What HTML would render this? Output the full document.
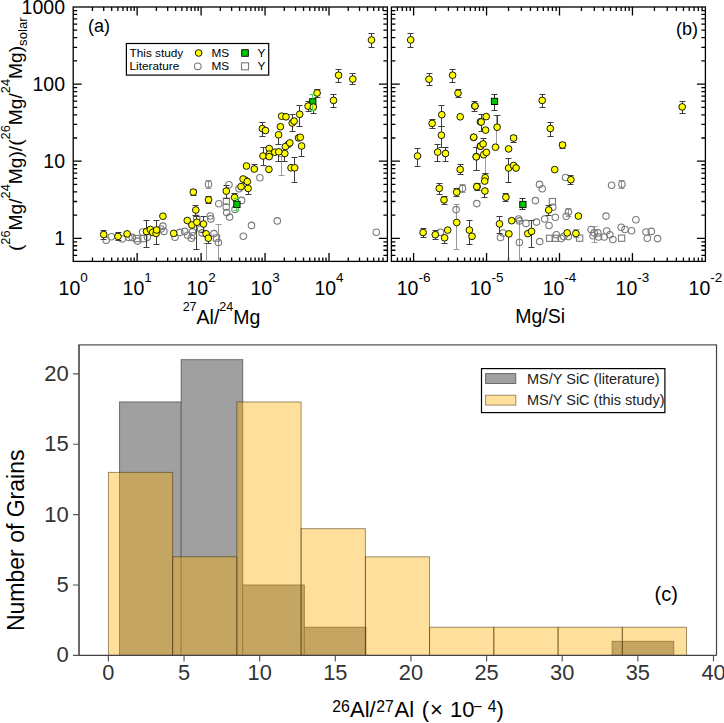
<!DOCTYPE html>
<html><head><meta charset="utf-8"><style>
html,body{margin:0;padding:0;background:#fff;}
svg{display:block;}
text{font-family:"Liberation Sans", sans-serif;}
</style></head><body>
<svg width="724" height="723" viewBox="0 0 724 723">
<rect width="724" height="723" fill="#fff"/>
<rect x="73.2" y="7.0" width="314.2" height="254.39999999999998" fill="none" stroke="#000" stroke-width="1.3"/>
<path d="M92.45,261.4v-4.0M92.45,7.0v4.0M103.71,261.4v-4.0M103.71,7.0v4.0M111.70,261.4v-4.0M111.70,7.0v4.0M117.90,261.4v-4.0M117.90,7.0v4.0M122.96,261.4v-4.0M122.96,7.0v4.0M127.24,261.4v-4.0M127.24,7.0v4.0M130.95,261.4v-4.0M130.95,7.0v4.0M134.22,261.4v-4.0M134.22,7.0v4.0M137.15,261.4v-8.5M137.15,7.0v8.5M156.40,261.4v-4.0M156.40,7.0v4.0M167.66,261.4v-4.0M167.66,7.0v4.0M175.65,261.4v-4.0M175.65,7.0v4.0M181.85,261.4v-4.0M181.85,7.0v4.0M186.91,261.4v-4.0M186.91,7.0v4.0M191.19,261.4v-4.0M191.19,7.0v4.0M194.90,261.4v-4.0M194.90,7.0v4.0M198.17,261.4v-4.0M198.17,7.0v4.0M201.10,261.4v-8.5M201.10,7.0v8.5M220.35,261.4v-4.0M220.35,7.0v4.0M231.61,261.4v-4.0M231.61,7.0v4.0M239.60,261.4v-4.0M239.60,7.0v4.0M245.80,261.4v-4.0M245.80,7.0v4.0M250.86,261.4v-4.0M250.86,7.0v4.0M255.14,261.4v-4.0M255.14,7.0v4.0M258.85,261.4v-4.0M258.85,7.0v4.0M262.12,261.4v-4.0M262.12,7.0v4.0M265.05,261.4v-8.5M265.05,7.0v8.5M284.30,261.4v-4.0M284.30,7.0v4.0M295.56,261.4v-4.0M295.56,7.0v4.0M303.55,261.4v-4.0M303.55,7.0v4.0M309.75,261.4v-4.0M309.75,7.0v4.0M314.81,261.4v-4.0M314.81,7.0v4.0M319.09,261.4v-4.0M319.09,7.0v4.0M322.80,261.4v-4.0M322.80,7.0v4.0M326.07,261.4v-4.0M326.07,7.0v4.0M329.00,261.4v-8.5M329.00,7.0v8.5M348.25,261.4v-4.0M348.25,7.0v4.0M359.51,261.4v-4.0M359.51,7.0v4.0M367.50,261.4v-4.0M367.50,7.0v4.0M373.70,261.4v-4.0M373.70,7.0v4.0M378.76,261.4v-4.0M378.76,7.0v4.0M383.04,261.4v-4.0M383.04,7.0v4.0M73.2,255.40h4.0M387.4,255.40h-4.0M73.2,250.24h4.0M387.4,250.24h-4.0M73.2,245.77h4.0M387.4,245.77h-4.0M73.2,241.83h4.0M387.4,241.83h-4.0M73.2,238.30h8.5M387.4,238.30h-8.5M73.2,215.09h4.0M387.4,215.09h-4.0M73.2,201.51h4.0M387.4,201.51h-4.0M73.2,191.88h4.0M387.4,191.88h-4.0M73.2,184.41h4.0M387.4,184.41h-4.0M73.2,178.30h4.0M387.4,178.30h-4.0M73.2,173.14h4.0M387.4,173.14h-4.0M73.2,168.67h4.0M387.4,168.67h-4.0M73.2,164.73h4.0M387.4,164.73h-4.0M73.2,161.20h8.5M387.4,161.20h-8.5M73.2,137.99h4.0M387.4,137.99h-4.0M73.2,124.41h4.0M387.4,124.41h-4.0M73.2,114.78h4.0M387.4,114.78h-4.0M73.2,107.31h4.0M387.4,107.31h-4.0M73.2,101.20h4.0M387.4,101.20h-4.0M73.2,96.04h4.0M387.4,96.04h-4.0M73.2,91.57h4.0M387.4,91.57h-4.0M73.2,87.63h4.0M387.4,87.63h-4.0M73.2,84.10h8.5M387.4,84.10h-8.5M73.2,60.89h4.0M387.4,60.89h-4.0M73.2,47.31h4.0M387.4,47.31h-4.0M73.2,37.68h4.0M387.4,37.68h-4.0M73.2,30.21h4.0M387.4,30.21h-4.0M73.2,24.10h4.0M387.4,24.10h-4.0M73.2,18.94h4.0M387.4,18.94h-4.0M73.2,14.47h4.0M387.4,14.47h-4.0M73.2,10.53h4.0M387.4,10.53h-4.0" stroke="#000" stroke-width="1.3" fill="none"/>
<rect x="391.4" y="7.0" width="314.0" height="254.39999999999998" fill="none" stroke="#000" stroke-width="1.3"/>
<path d="M397.42,261.4v-4.0M397.42,7.0v4.0M402.30,261.4v-4.0M402.30,7.0v4.0M406.53,261.4v-4.0M406.53,7.0v4.0M410.26,261.4v-4.0M410.26,7.0v4.0M413.60,261.4v-8.5M413.60,7.0v8.5M435.56,261.4v-4.0M435.56,7.0v4.0M448.41,261.4v-4.0M448.41,7.0v4.0M457.52,261.4v-4.0M457.52,7.0v4.0M464.59,261.4v-4.0M464.59,7.0v4.0M470.37,261.4v-4.0M470.37,7.0v4.0M475.25,261.4v-4.0M475.25,7.0v4.0M479.48,261.4v-4.0M479.48,7.0v4.0M483.21,261.4v-4.0M483.21,7.0v4.0M486.55,261.4v-8.5M486.55,7.0v8.5M508.51,261.4v-4.0M508.51,7.0v4.0M521.36,261.4v-4.0M521.36,7.0v4.0M530.47,261.4v-4.0M530.47,7.0v4.0M537.54,261.4v-4.0M537.54,7.0v4.0M543.32,261.4v-4.0M543.32,7.0v4.0M548.20,261.4v-4.0M548.20,7.0v4.0M552.43,261.4v-4.0M552.43,7.0v4.0M556.16,261.4v-4.0M556.16,7.0v4.0M559.50,261.4v-8.5M559.50,7.0v8.5M581.46,261.4v-4.0M581.46,7.0v4.0M594.31,261.4v-4.0M594.31,7.0v4.0M603.42,261.4v-4.0M603.42,7.0v4.0M610.49,261.4v-4.0M610.49,7.0v4.0M616.27,261.4v-4.0M616.27,7.0v4.0M621.15,261.4v-4.0M621.15,7.0v4.0M625.38,261.4v-4.0M625.38,7.0v4.0M629.11,261.4v-4.0M629.11,7.0v4.0M632.45,261.4v-8.5M632.45,7.0v8.5M654.41,261.4v-4.0M654.41,7.0v4.0M667.26,261.4v-4.0M667.26,7.0v4.0M676.37,261.4v-4.0M676.37,7.0v4.0M683.44,261.4v-4.0M683.44,7.0v4.0M689.22,261.4v-4.0M689.22,7.0v4.0M694.10,261.4v-4.0M694.10,7.0v4.0M698.33,261.4v-4.0M698.33,7.0v4.0M702.06,261.4v-4.0M702.06,7.0v4.0M391.4,255.40h4.0M705.4,255.40h-4.0M391.4,250.24h4.0M705.4,250.24h-4.0M391.4,245.77h4.0M705.4,245.77h-4.0M391.4,241.83h4.0M705.4,241.83h-4.0M391.4,238.30h8.5M705.4,238.30h-8.5M391.4,215.09h4.0M705.4,215.09h-4.0M391.4,201.51h4.0M705.4,201.51h-4.0M391.4,191.88h4.0M705.4,191.88h-4.0M391.4,184.41h4.0M705.4,184.41h-4.0M391.4,178.30h4.0M705.4,178.30h-4.0M391.4,173.14h4.0M705.4,173.14h-4.0M391.4,168.67h4.0M705.4,168.67h-4.0M391.4,164.73h4.0M705.4,164.73h-4.0M391.4,161.20h8.5M705.4,161.20h-8.5M391.4,137.99h4.0M705.4,137.99h-4.0M391.4,124.41h4.0M705.4,124.41h-4.0M391.4,114.78h4.0M705.4,114.78h-4.0M391.4,107.31h4.0M705.4,107.31h-4.0M391.4,101.20h4.0M705.4,101.20h-4.0M391.4,96.04h4.0M705.4,96.04h-4.0M391.4,91.57h4.0M705.4,91.57h-4.0M391.4,87.63h4.0M705.4,87.63h-4.0M391.4,84.10h8.5M705.4,84.10h-8.5M391.4,60.89h4.0M705.4,60.89h-4.0M391.4,47.31h4.0M705.4,47.31h-4.0M391.4,37.68h4.0M705.4,37.68h-4.0M391.4,30.21h4.0M705.4,30.21h-4.0M391.4,24.10h4.0M705.4,24.10h-4.0M391.4,18.94h4.0M705.4,18.94h-4.0M391.4,14.47h4.0M705.4,14.47h-4.0M391.4,10.53h4.0M705.4,10.53h-4.0" stroke="#000" stroke-width="1.3" fill="none"/>
<rect x="126.4" y="43.5" width="142.3" height="31.6" fill="#fff" stroke="#000" stroke-width="1.2"/>
<path d="M218.5,224.5V261.4M215.5,224.5h6.0M281.5,156.5V175.9M278.5,156.5h6.0M278.5,175.5h6.0M519.5,220.5V261.4M516.5,220.5h6.0M485.5,154.5V173.6M482.5,154.5h6.0M482.5,173.5h6.0M456.5,204.5V249.4M453.5,204.5h6.0M453.5,249.5h6.0M496.5,115.5V147.2M493.5,115.5h6.0M493.5,147.5h6.0M462.5,184.5V192.5M459.5,184.5h6.0M459.5,192.5h6.0M576.5,229.5V237.0M573.5,229.5h6.0M573.5,237.5h6.0M206.5,243.5V261.4M203.5,243.5h6.0M621.5,180.5V188.0M618.5,180.5h6.0M618.5,188.5h6.0M594.5,226.5V242M591.5,226.5h6.0M591.5,242.5h6.0M208.5,180.5V188M205.5,180.5h6.0M205.5,188.5h6.0M568.5,208.5V216M565.5,208.5h6.0M565.5,216.5h6.0" stroke="#9a9a9a" stroke-width="1" fill="none"/>
<g fill="none" stroke="#7a7a7a" stroke-width="1.1">
<circle cx="106.2" cy="240.3" r="3.25"/>
<circle cx="111.4" cy="236.7" r="3.25"/>
<circle cx="122.3" cy="239" r="3.25"/>
<circle cx="129" cy="237.4" r="3.25"/>
<circle cx="132.3" cy="237.4" r="3.25"/>
<circle cx="137.6" cy="241.1" r="3.25"/>
<circle cx="142.6" cy="232" r="3.25"/>
<circle cx="147.4" cy="237.2" r="3.25"/>
<circle cx="161" cy="229" r="3.25"/>
<circle cx="162.9" cy="226.1" r="3.25"/>
<circle cx="163.9" cy="231.4" r="3.25"/>
<circle cx="175" cy="237.2" r="3.25"/>
<circle cx="179.8" cy="232.4" r="3.25"/>
<circle cx="184.7" cy="231.4" r="3.25"/>
<circle cx="187.6" cy="235.3" r="3.25"/>
<circle cx="192.4" cy="231.9" r="3.25"/>
<circle cx="191.4" cy="238.2" r="3.25"/>
<circle cx="193.4" cy="235.8" r="3.25"/>
<circle cx="200.6" cy="229" r="3.25"/>
<circle cx="202.1" cy="232.9" r="3.25"/>
<circle cx="196.7" cy="218.4" r="3.25"/>
<circle cx="210.3" cy="216" r="3.25"/>
<circle cx="210.8" cy="218.9" r="3.25"/>
<circle cx="208.5" cy="184.3" r="3.25"/>
<circle cx="218.8" cy="203.7" r="3.25"/>
<circle cx="229.0" cy="184.7" r="3.25"/>
<circle cx="239.0" cy="188.8" r="3.25"/>
<circle cx="241.6" cy="200.4" r="3.25"/>
<circle cx="259.9" cy="177.7" r="3.25"/>
<circle cx="235" cy="209.4" r="3.25"/>
<circle cx="226.2" cy="207" r="3.25"/>
<circle cx="226.7" cy="212.6" r="3.25"/>
<circle cx="229.6" cy="217.1" r="3.25"/>
<circle cx="214" cy="233.6" r="3.25"/>
<circle cx="218.4" cy="242.5" r="3.25"/>
<circle cx="251.5" cy="225.4" r="3.25"/>
<circle cx="243.3" cy="236.2" r="3.25"/>
<circle cx="277.3" cy="220.9" r="3.25"/>
<circle cx="376.3" cy="232.3" r="3.25"/>
<circle cx="462.5" cy="188.4" r="3.25"/>
<circle cx="476.8" cy="203.6" r="3.25"/>
<circle cx="456.1" cy="209.6" r="3.25"/>
<circle cx="440.5" cy="232.2" r="3.25"/>
<circle cx="535.4" cy="200.6" r="3.25"/>
<circle cx="539.5" cy="184.4" r="3.25"/>
<circle cx="542.2" cy="188.8" r="3.25"/>
<circle cx="552.8" cy="207.2" r="3.25"/>
<circle cx="518.6" cy="219" r="3.25"/>
<circle cx="544.7" cy="219" r="3.25"/>
<circle cx="555.3" cy="217.2" r="3.25"/>
<circle cx="519.4" cy="220.9" r="3.25"/>
<circle cx="519.4" cy="242.5" r="3.25"/>
<circle cx="526" cy="223.4" r="3.25"/>
<circle cx="536.5" cy="222.1" r="3.25"/>
<circle cx="539.7" cy="241.6" r="3.25"/>
<circle cx="500.5" cy="237.5" r="3.25"/>
<circle cx="503" cy="233" r="3.25"/>
<circle cx="549" cy="225.5" r="3.25"/>
<circle cx="556.4" cy="234.8" r="3.25"/>
<circle cx="565.6" cy="177.5" r="3.25"/>
<circle cx="611.6" cy="185.2" r="3.25"/>
<circle cx="621.9" cy="184.3" r="3.25"/>
<circle cx="568.4" cy="212.1" r="3.25"/>
<circle cx="566.2" cy="216.3" r="3.25"/>
<circle cx="606" cy="216.1" r="3.25"/>
<circle cx="635.9" cy="219.8" r="3.25"/>
<circle cx="561.2" cy="238.5" r="3.25"/>
<circle cx="563.7" cy="236.6" r="3.25"/>
<circle cx="568.4" cy="236.6" r="3.25"/>
<circle cx="591.1" cy="229.5" r="3.25"/>
<circle cx="594.2" cy="232.9" r="3.25"/>
<circle cx="597.9" cy="232.9" r="3.25"/>
<circle cx="593" cy="235.7" r="3.25"/>
<circle cx="598.6" cy="237" r="3.25"/>
<circle cx="604.2" cy="237" r="3.25"/>
<circle cx="606.7" cy="231" r="3.25"/>
<circle cx="609.8" cy="234.7" r="3.25"/>
<circle cx="612.9" cy="239.5" r="3.25"/>
<circle cx="621.2" cy="227.3" r="3.25"/>
<circle cx="625" cy="229.5" r="3.25"/>
<circle cx="631.6" cy="230.8" r="3.25"/>
<circle cx="646" cy="232" r="3.25"/>
<circle cx="651.3" cy="231.4" r="3.25"/>
<circle cx="647.3" cy="238.2" r="3.25"/>
<circle cx="657.6" cy="238.6" r="3.25"/>
<rect x="133.70000000000002" y="235.5" width="6.2" height="6.2"/>
<rect x="140.8" y="235.5" width="6.2" height="6.2"/>
<rect x="223.3" y="198.20000000000002" width="6.2" height="6.2"/>
<rect x="213.4" y="235.0" width="6.2" height="6.2"/>
<rect x="549.3" y="198.5" width="6.2" height="6.2"/>
<rect x="546.5" y="235.20000000000002" width="6.2" height="6.2"/>
<rect x="552.1" y="235.20000000000002" width="6.2" height="6.2"/>
<rect x="576.5" y="235.1" width="6.2" height="6.2"/>
<rect x="618.5" y="235.1" width="6.2" height="6.2"/>
</g>
<path d="M103.5,234.5V230.5M100.5,230.5h6.0M103.5,234.5V239.4M100.5,239.5h6.0M118.5,236.4V232.5M115.5,232.5h6.0M118.5,236.4V240.2M115.5,240.5h6.0M146.5,231.5V220.5M143.5,220.5h6.0M146.5,231.5V247.4M143.5,247.5h6.0M156.5,230V220.5M153.5,220.5h6.0M156.5,230V244.5M153.5,244.5h6.0M193.5,192.1V189.5M190.5,189.5h6.0M193.5,192.1V195.5M190.5,195.5h6.0M195.5,210V205.5M192.5,205.5h6.0M195.5,210V215.5M192.5,215.5h6.0M196.5,222.2V216.5M193.5,216.5h6.0M196.5,222.2V249.3M193.5,249.5h6.0M203.5,224V216.5M200.5,216.5h6.0M203.5,224V232M200.5,232.5h6.0M208.5,238.2V243.2M205.5,243.5h6.0M208.5,199.8V196.5M205.5,196.5h6.0M208.5,199.8V203.7M205.5,203.5h6.0M226.5,191.1V185.5M223.5,185.5h6.0M226.5,191.1V198M223.5,198.5h6.0M234.5,197.4V193.5M231.5,193.5h6.0M248.5,188.4V194.3M245.5,194.5h6.0M254.5,169V164.5M251.5,164.5h6.0M262.5,128.6V122.5M259.5,122.5h6.0M262.5,128.6V136.1M259.5,136.5h6.0M299.5,114.3V105.5M296.5,105.5h6.0M299.5,114.3V126.7M296.5,126.5h6.0M292.5,123V114.5M289.5,114.5h6.0M292.5,123V131.7M289.5,131.5h6.0M278.5,134.8V144.8M275.5,144.5h6.0M301.5,146V156M298.5,156.5h6.0M284.5,153.5V161M281.5,161.5h6.0M263.5,156V147.5M260.5,147.5h6.0M263.5,156V165.9M260.5,165.5h6.0M278.5,151.8V161.3M275.5,161.5h6.0M294.5,167.8V157.5M291.5,157.5h6.0M294.5,167.8V182.1M291.5,182.5h6.0M308.5,106.1V101.5M305.5,101.5h6.0M308.5,106.1V111.3M305.5,111.5h6.0M313.5,107.1V113.4M310.5,113.5h6.0M317.5,93V89.5M314.5,89.5h6.0M317.5,93V97.4M314.5,97.5h6.0M333.5,100.4V94.5M330.5,94.5h6.0M333.5,100.4V107M330.5,107.5h6.0M338.5,75.2V69.5M335.5,69.5h6.0M338.5,75.2V82.4M335.5,82.5h6.0M352.5,79.1V73.5M349.5,73.5h6.0M352.5,79.1V84.9M349.5,84.5h6.0M371.5,40V33.5M368.5,33.5h6.0M371.5,40V47.3M368.5,47.5h6.0M410.5,39.9V33.5M407.5,33.5h6.0M410.5,39.9V47.4M407.5,47.5h6.0M429.5,79.2V73.5M426.5,73.5h6.0M429.5,79.2V85.4M426.5,85.5h6.0M452.5,75.2V69.5M449.5,69.5h6.0M452.5,75.2V82.3M449.5,82.5h6.0M458.5,93.2V89.5M455.5,89.5h6.0M458.5,93.2V97.2M455.5,97.5h6.0M474.5,106V101.5M471.5,101.5h6.0M474.5,106V111.2M471.5,111.5h6.0M441.5,114.7V105.5M438.5,105.5h6.0M441.5,114.7V126.8M438.5,126.5h6.0M432.5,123.4V119.5M429.5,119.5h6.0M432.5,123.4V128M429.5,128.5h6.0M441.5,135.2V126.5M438.5,126.5h6.0M441.5,135.2V147.3M438.5,147.5h6.0M417.5,156V148.5M414.5,148.5h6.0M417.5,156V166.4M414.5,166.5h6.0M437.5,152.1V144.5M434.5,144.5h6.0M437.5,152.1V161.3M434.5,161.5h6.0M445.5,153.5V147.5M442.5,147.5h6.0M445.5,153.5V161.3M442.5,161.5h6.0M460.5,169.5V164.5M457.5,164.5h6.0M460.5,169.5V174.5M457.5,174.5h6.0M476.5,156.7V147.5M473.5,147.5h6.0M476.5,156.7V170.4M473.5,170.5h6.0M439.5,188.4V183.5M436.5,183.5h6.0M439.5,188.4V194.3M436.5,194.5h6.0M477.5,186.5V183.5M474.5,183.5h6.0M477.5,186.5V190M474.5,190.5h6.0M444.5,199.9V196.5M441.5,196.5h6.0M444.5,199.9V204.2M441.5,204.5h6.0M456.5,192.2V188.5M453.5,188.5h6.0M456.5,192.2V196.4M453.5,196.5h6.0M423.5,232.5V228.5M420.5,228.5h6.0M423.5,232.5V237.2M420.5,237.5h6.0M435.5,234.7V230.5M432.5,230.5h6.0M435.5,234.7V239.3M432.5,239.5h6.0M444.5,237.8V243.2M441.5,243.5h6.0M469.5,230.1V220.5M466.5,220.5h6.0M469.5,230.1V244M466.5,244.5h6.0M542.5,100.4V94.5M539.5,94.5h6.0M542.5,100.4V107M539.5,107.5h6.0M481.5,122V114.5M478.5,114.5h6.0M481.5,122V131.9M478.5,131.5h6.0M497.5,127.2V115.5M494.5,115.5h6.0M550.5,128.5V122.5M547.5,122.5h6.0M550.5,128.5V136.2M547.5,136.5h6.0M513.5,138V135.5M510.5,135.5h6.0M513.5,138V142M510.5,142.5h6.0M483.5,143.9V138.5M480.5,138.5h6.0M476.5,156.8V147.5M473.5,147.5h6.0M476.5,156.8V170.1M473.5,170.5h6.0M508.5,168V158.5M505.5,158.5h6.0M508.5,168V182.3M505.5,182.5h6.0M562.5,145V142.5M559.5,142.5h6.0M562.5,145V148M559.5,148.5h6.0M485.5,177.7V173.5M482.5,173.5h6.0M484.5,191V197.6M481.5,197.5h6.0M505.5,197.2V193.5M502.5,193.5h6.0M505.5,197.2V201.2M502.5,201.5h6.0M548.5,210V205.5M545.5,205.5h6.0M548.5,210V215.3M545.5,215.5h6.0M499.5,223.9V216.5M496.5,216.5h6.0M499.5,223.9V233.6M496.5,233.5h6.0M511.5,220.7V218.5M508.5,218.5h6.0M508.5,233.9V261.4M531.5,231.4V220.5M528.5,220.5h6.0M531.5,231.4V247.2M528.5,247.5h6.0M570.5,179.7V175.5M567.5,175.5h6.0M570.5,179.7V184.9M567.5,184.5h6.0M682.5,106.9V101.5M679.5,101.5h6.0M682.5,106.9V113.4M679.5,113.5h6.0" stroke="#3c3c3c" stroke-width="1" fill="none"/>
<path d="M494.5,94.5V110.5M491.5,94.5h6.0M491.5,110.5h6.0M522.5,198.5V209.5M519.5,198.5h6.0M519.5,209.5h6.0" stroke="#333" stroke-width="1" fill="none"/>
<g fill="#00c400" stroke="#000" stroke-width="0.9">
<rect x="233.75" y="201.25" width="6.3" height="6.3"/>
<rect x="309.65000000000003" y="98.64999999999999" width="6.3" height="6.3"/>
<rect x="491.35" y="98.25" width="6.3" height="6.3"/>
<rect x="519.75" y="201.35" width="6.3" height="6.3"/>
</g>
<g fill="#ffff00" stroke="#000" stroke-width="0.9">
<circle cx="103.7" cy="234.5" r="3.35"/>
<circle cx="118" cy="236.4" r="3.35"/>
<circle cx="127.1" cy="233.9" r="3.35"/>
<circle cx="146.5" cy="231.5" r="3.35"/>
<circle cx="150.3" cy="229.5" r="3.35"/>
<circle cx="152.7" cy="232.4" r="3.35"/>
<circle cx="156.1" cy="233.4" r="3.35"/>
<circle cx="156.6" cy="230" r="3.35"/>
<circle cx="162.9" cy="216.2" r="3.35"/>
<circle cx="173.7" cy="233.4" r="3.35"/>
<circle cx="193.3" cy="192.1" r="3.35"/>
<circle cx="187.3" cy="220.5" r="3.35"/>
<circle cx="191.9" cy="225" r="3.35"/>
<circle cx="195.8" cy="210" r="3.35"/>
<circle cx="196.9" cy="222.2" r="3.35"/>
<circle cx="203.5" cy="224" r="3.35"/>
<circle cx="206.1" cy="233.8" r="3.35"/>
<circle cx="208.3" cy="238.2" r="3.35"/>
<circle cx="208.5" cy="199.8" r="3.35"/>
<circle cx="226.3" cy="191.1" r="3.35"/>
<circle cx="234.6" cy="197.4" r="3.35"/>
<circle cx="241" cy="186.6" r="3.35"/>
<circle cx="248.1" cy="188.4" r="3.35"/>
<circle cx="245.2" cy="180.2" r="3.35"/>
<circle cx="243.1" cy="179" r="3.35"/>
<circle cx="247.3" cy="181.5" r="3.35"/>
<circle cx="246.5" cy="166" r="3.35"/>
<circle cx="254.3" cy="169" r="3.35"/>
<circle cx="262.4" cy="128.6" r="3.35"/>
<circle cx="265.5" cy="130.5" r="3.35"/>
<circle cx="281.7" cy="116.2" r="3.35"/>
<circle cx="286" cy="116.8" r="3.35"/>
<circle cx="299.7" cy="114.3" r="3.35"/>
<circle cx="292.2" cy="123" r="3.35"/>
<circle cx="294.1" cy="121.1" r="3.35"/>
<circle cx="280.4" cy="126.7" r="3.35"/>
<circle cx="278.6" cy="134.8" r="3.35"/>
<circle cx="298.5" cy="137.9" r="3.35"/>
<circle cx="300.3" cy="137.3" r="3.35"/>
<circle cx="301.6" cy="146" r="3.35"/>
<circle cx="288.5" cy="144.2" r="3.35"/>
<circle cx="285.4" cy="146.6" r="3.35"/>
<circle cx="289.8" cy="142.9" r="3.35"/>
<circle cx="284.8" cy="153.5" r="3.35"/>
<circle cx="269.2" cy="148.5" r="3.35"/>
<circle cx="263" cy="156" r="3.35"/>
<circle cx="269.2" cy="154.1" r="3.35"/>
<circle cx="269.2" cy="156.6" r="3.35"/>
<circle cx="274.8" cy="152.2" r="3.35"/>
<circle cx="278.8" cy="151.8" r="3.35"/>
<circle cx="268.9" cy="169.4" r="3.35"/>
<circle cx="291" cy="167.8" r="3.35"/>
<circle cx="294.7" cy="167.8" r="3.35"/>
<circle cx="308.1" cy="106.1" r="3.35"/>
<circle cx="313.3" cy="107.1" r="3.35"/>
<circle cx="317.1" cy="93" r="3.35"/>
<circle cx="333.5" cy="100.4" r="3.35"/>
<circle cx="338.6" cy="75.2" r="3.35"/>
<circle cx="352.8" cy="79.1" r="3.35"/>
<circle cx="371.5" cy="40" r="3.35"/>
<circle cx="410.7" cy="39.9" r="3.35"/>
<circle cx="429" cy="79.2" r="3.35"/>
<circle cx="452.6" cy="75.2" r="3.35"/>
<circle cx="458" cy="93.2" r="3.35"/>
<circle cx="474.8" cy="106" r="3.35"/>
<circle cx="441.8" cy="114.7" r="3.35"/>
<circle cx="432.1" cy="123.4" r="3.35"/>
<circle cx="441.4" cy="135.2" r="3.35"/>
<circle cx="460.2" cy="116.8" r="3.35"/>
<circle cx="480.4" cy="121.8" r="3.35"/>
<circle cx="473.6" cy="137.4" r="3.35"/>
<circle cx="480.4" cy="146.1" r="3.35"/>
<circle cx="417.5" cy="156" r="3.35"/>
<circle cx="437.7" cy="152.1" r="3.35"/>
<circle cx="445.5" cy="153.5" r="3.35"/>
<circle cx="460.2" cy="169.5" r="3.35"/>
<circle cx="476.3" cy="156.7" r="3.35"/>
<circle cx="439.3" cy="188.4" r="3.35"/>
<circle cx="477.1" cy="186.5" r="3.35"/>
<circle cx="444" cy="199.9" r="3.35"/>
<circle cx="456.7" cy="192.2" r="3.35"/>
<circle cx="456.7" cy="222.5" r="3.35"/>
<circle cx="423.1" cy="232.5" r="3.35"/>
<circle cx="435.3" cy="234.7" r="3.35"/>
<circle cx="447.7" cy="230.1" r="3.35"/>
<circle cx="444.6" cy="237.8" r="3.35"/>
<circle cx="469.4" cy="230.1" r="3.35"/>
<circle cx="472" cy="236.3" r="3.35"/>
<circle cx="475" cy="106" r="3.35"/>
<circle cx="542.2" cy="100.4" r="3.35"/>
<circle cx="486.2" cy="116.6" r="3.35"/>
<circle cx="481.2" cy="122" r="3.35"/>
<circle cx="485.6" cy="130.1" r="3.35"/>
<circle cx="497.1" cy="127.2" r="3.35"/>
<circle cx="550.3" cy="128.5" r="3.35"/>
<circle cx="473.7" cy="137.2" r="3.35"/>
<circle cx="513.6" cy="138" r="3.35"/>
<circle cx="495.5" cy="147.2" r="3.35"/>
<circle cx="508.6" cy="148.9" r="3.35"/>
<circle cx="480.6" cy="146.2" r="3.35"/>
<circle cx="483.1" cy="143.9" r="3.35"/>
<circle cx="476.2" cy="156.8" r="3.35"/>
<circle cx="483.7" cy="154.7" r="3.35"/>
<circle cx="486.4" cy="152.4" r="3.35"/>
<circle cx="508.6" cy="168" r="3.35"/>
<circle cx="513.6" cy="165.5" r="3.35"/>
<circle cx="516.1" cy="168" r="3.35"/>
<circle cx="554.7" cy="169.6" r="3.35"/>
<circle cx="562.5" cy="145" r="3.35"/>
<circle cx="485.2" cy="177.7" r="3.35"/>
<circle cx="484.7" cy="181.1" r="3.35"/>
<circle cx="476.8" cy="186.7" r="3.35"/>
<circle cx="484.9" cy="191" r="3.35"/>
<circle cx="505.9" cy="197.2" r="3.35"/>
<circle cx="548.7" cy="210" r="3.35"/>
<circle cx="499.5" cy="223.9" r="3.35"/>
<circle cx="511.7" cy="220.7" r="3.35"/>
<circle cx="508.9" cy="233.9" r="3.35"/>
<circle cx="527.8" cy="233.6" r="3.35"/>
<circle cx="531.6" cy="231.4" r="3.35"/>
<circle cx="570.9" cy="179.7" r="3.35"/>
<circle cx="578.4" cy="216.1" r="3.35"/>
<circle cx="567.2" cy="232.9" r="3.35"/>
<circle cx="575.9" cy="233.5" r="3.35"/>
<circle cx="682.2" cy="106.9" r="3.35"/>
</g>
<path d="M236.5,201.20000000000002V198.6M233.5,198.5h6.0M236.5,207.6V210.5M233.5,210.5h6.0M312.5,98.6V94.6M309.5,94.5h6.0M312.5,105.0V110.6M309.5,110.5h6.0" stroke="#44dd44" stroke-width="1" fill="none"/>
<circle cx="198.6" cy="53" r="3.35" fill="#ffff00" stroke="#000" stroke-width="0.9"/>
<circle cx="197.8" cy="66.3" r="3.35" fill="none" stroke="#7a7a7a" stroke-width="1.1"/>
<rect x="241.7" y="49.7" width="6.6" height="6.6" fill="#00c400" stroke="#000" stroke-width="0.9"/>
<rect x="241.5" y="62.8" width="7" height="7" fill="none" stroke="#7a7a7a" stroke-width="1.1"/>
<rect x="119.60" y="401.96" width="61.57" height="253.44" fill="#a0a0a0" stroke="#606060" stroke-width="0.9"/>
<rect x="181.17" y="359.72" width="61.57" height="295.68" fill="#a0a0a0" stroke="#606060" stroke-width="0.9"/>
<rect x="242.74" y="585.00" width="61.57" height="70.40" fill="#a0a0a0" stroke="#606060" stroke-width="0.9"/>
<rect x="304.31" y="627.24" width="61.57" height="28.16" fill="#a0a0a0" stroke="#606060" stroke-width="0.9"/>
<rect x="612.16" y="641.32" width="61.57" height="14.08" fill="#a0a0a0" stroke="#606060" stroke-width="0.9"/>
<rect x="108.40" y="472.36" width="64.24" height="183.04" fill="rgba(255,172,0,0.39)" stroke="rgba(60,40,0,0.55)" stroke-width="0.9"/>
<rect x="172.64" y="556.84" width="64.24" height="98.56" fill="rgba(255,172,0,0.39)" stroke="rgba(60,40,0,0.55)" stroke-width="0.9"/>
<rect x="236.88" y="401.96" width="64.24" height="253.44" fill="rgba(255,172,0,0.39)" stroke="rgba(60,40,0,0.55)" stroke-width="0.9"/>
<rect x="301.12" y="528.68" width="64.24" height="126.72" fill="rgba(255,172,0,0.39)" stroke="rgba(60,40,0,0.55)" stroke-width="0.9"/>
<rect x="365.36" y="556.84" width="64.24" height="98.56" fill="rgba(255,172,0,0.39)" stroke="rgba(60,40,0,0.55)" stroke-width="0.9"/>
<rect x="429.60" y="627.24" width="64.24" height="28.16" fill="rgba(255,172,0,0.39)" stroke="rgba(60,40,0,0.55)" stroke-width="0.9"/>
<rect x="493.84" y="627.24" width="64.24" height="28.16" fill="rgba(255,172,0,0.39)" stroke="rgba(60,40,0,0.55)" stroke-width="0.9"/>
<rect x="558.08" y="627.24" width="64.24" height="28.16" fill="rgba(255,172,0,0.39)" stroke="rgba(60,40,0,0.55)" stroke-width="0.9"/>
<rect x="622.32" y="627.24" width="64.24" height="28.16" fill="rgba(255,172,0,0.39)" stroke="rgba(60,40,0,0.55)" stroke-width="0.9"/>
<path d="M78.4,344.9H717.1" stroke="#555" stroke-width="1.2"/>
<path d="M716.5,344.9V655.4" stroke="#444" stroke-width="1.2"/>
<path d="M79.0,344.9V655.4" stroke="#2a2a2a" stroke-width="1.4"/>
<path d="M79.0,655.4H716.5" stroke="#444" stroke-width="1.2"/>
<path d="M79.0,655.40h-6M79.0,585.00h-6M79.0,514.60h-6M79.0,444.20h-6M79.0,373.80h-6M108.40,655.4v6M184.04,655.4v6M259.68,655.4v6M335.31,655.4v6M410.95,655.4v6M486.59,655.4v6M562.23,655.4v6M637.86,655.4v6M713.50,655.4v6" stroke="#555" stroke-width="1.15" fill="none"/>
<rect x="481.5" y="368.6" width="183.4" height="44" fill="#fff" stroke="#000" stroke-width="1.2"/>
<rect x="485.6" y="373.6" width="30.2" height="9.9" fill="#a0a0a0" stroke="#606060" stroke-width="0.9"/>
<rect x="485.6" y="395.2" width="30.2" height="9.9" fill="rgba(255,172,0,0.39)" stroke="rgba(60,40,0,0.55)" stroke-width="0.9"/>
<text x="65.0" y="13.8" font-size="19.5" text-anchor="end" fill="#000" >1000</text>
<text x="65.0" y="90.9" font-size="19.5" text-anchor="end" fill="#000" >100</text>
<text x="65.0" y="168.0" font-size="19.5" text-anchor="end" fill="#000" >10</text>
<text x="65.0" y="245.1" font-size="19.5" text-anchor="end" fill="#000" >1</text>
<text x="73.2" y="294.9" font-size="19.5" text-anchor="middle" fill="#000" >10<tspan font-size="13.5" dy="-12.8">0</tspan></text>
<text x="137.15" y="294.9" font-size="19.5" text-anchor="middle" fill="#000" >10<tspan font-size="13.5" dy="-12.8">1</tspan></text>
<text x="201.1" y="294.9" font-size="19.5" text-anchor="middle" fill="#000" >10<tspan font-size="13.5" dy="-12.8">2</tspan></text>
<text x="265.05" y="294.9" font-size="19.5" text-anchor="middle" fill="#000" >10<tspan font-size="13.5" dy="-12.8">3</tspan></text>
<text x="329.0" y="294.9" font-size="19.5" text-anchor="middle" fill="#000" >10<tspan font-size="13.5" dy="-12.8">4</tspan></text>
<text x="413.6" y="294.9" font-size="19.5" text-anchor="middle" fill="#000" >10<tspan font-size="13.5" dy="-12.8">-6</tspan></text>
<text x="486.55" y="294.9" font-size="19.5" text-anchor="middle" fill="#000" >10<tspan font-size="13.5" dy="-12.8">-5</tspan></text>
<text x="559.5" y="294.9" font-size="19.5" text-anchor="middle" fill="#000" >10<tspan font-size="13.5" dy="-12.8">-4</tspan></text>
<text x="632.45" y="294.9" font-size="19.5" text-anchor="middle" fill="#000" >10<tspan font-size="13.5" dy="-12.8">-3</tspan></text>
<text x="705.4" y="294.9" font-size="19.5" text-anchor="middle" fill="#000" >10<tspan font-size="13.5" dy="-12.8">-2</tspan></text>
<text x="221.5" y="323.7" font-size="19.5" text-anchor="middle" fill="#000" ><tspan font-size="12.5" dy="-13">27</tspan><tspan dy="13">Al/</tspan><tspan font-size="12.5" dy="-13">24</tspan><tspan dy="13">Mg</tspan></text>
<text x="540.2" y="323.3" font-size="19.5" text-anchor="middle" fill="#000" >Mg/Si</text>
<text x="88.0" y="31.9" font-size="18" text-anchor="start" fill="#000" >(a)</text>
<text x="676.0" y="35.2" font-size="18" text-anchor="start" fill="#000" >(b)</text>
<text transform="translate(22.3,134.2) rotate(-90)" font-size="19.2" text-anchor="middle">(<tspan font-size="12.8" dy="-12.8">26</tspan><tspan dy="12.8">Mg/</tspan><tspan font-size="12.8" dy="-12.8">24</tspan><tspan dy="12.8">Mg)/(</tspan><tspan font-size="12.8" dy="-12.8">26</tspan><tspan dy="12.8">Mg/</tspan><tspan font-size="12.8" dy="-12.8">24</tspan><tspan dy="12.8">Mg)</tspan><tspan font-size="13.2" dy="4.3">solar</tspan></text>
<text x="129.5" y="56.8" font-size="11.8" text-anchor="start" fill="#000" >This study</text>
<text x="129.5" y="69.8" font-size="11.8" text-anchor="start" fill="#000" >Literature</text>
<text x="211.5" y="56.8" font-size="11.8" text-anchor="start" fill="#000" >MS</text>
<text x="211.5" y="69.8" font-size="11.8" text-anchor="start" fill="#000" >MS</text>
<text x="257.6" y="56.8" font-size="11.8" text-anchor="start" fill="#000" >Y</text>
<text x="257.6" y="69.8" font-size="11.8" text-anchor="start" fill="#000" >Y</text>
<text x="68.8" y="662.4" font-size="22" text-anchor="end" fill="#333" >0</text>
<text x="68.8" y="592.0" font-size="22" text-anchor="end" fill="#333" >5</text>
<text x="68.8" y="521.6" font-size="22" text-anchor="end" fill="#333" >10</text>
<text x="68.8" y="451.2" font-size="22" text-anchor="end" fill="#333" >15</text>
<text x="68.8" y="380.8" font-size="22" text-anchor="end" fill="#333" >20</text>
<text x="108.4" y="679.6" font-size="21.8" text-anchor="middle" fill="#333" >0</text>
<text x="184.04" y="679.6" font-size="21.8" text-anchor="middle" fill="#333" >5</text>
<text x="259.68" y="679.6" font-size="21.8" text-anchor="middle" fill="#333" >10</text>
<text x="335.31" y="679.6" font-size="21.8" text-anchor="middle" fill="#333" >15</text>
<text x="410.95" y="679.6" font-size="21.8" text-anchor="middle" fill="#333" >20</text>
<text x="486.59" y="679.6" font-size="21.8" text-anchor="middle" fill="#333" >25</text>
<text x="562.23" y="679.6" font-size="21.8" text-anchor="middle" fill="#333" >30</text>
<text x="637.86" y="679.6" font-size="21.8" text-anchor="middle" fill="#333" >35</text>
<text x="713.5" y="679.6" font-size="21.8" text-anchor="middle" fill="#333" >40</text>
<text transform="translate(23.6,540.3) rotate(-90)" font-size="23" text-anchor="middle">Number of Grains</text>
<text x="332.2" y="711.6" font-size="15.8" text-anchor="start" fill="#000" >26</text>
<text x="350.06" y="717.4" font-size="22" text-anchor="start" fill="#000" >Al/</text>
<text x="376.2" y="711.6" font-size="15.8" text-anchor="start" fill="#000" >27</text>
<text x="394.6" y="717.4" font-size="22" text-anchor="start" fill="#000" >Al</text>
<text x="421.7" y="717.4" font-size="22" text-anchor="start" fill="#000" >(</text>
<text x="430.1" y="717.4" font-size="22" text-anchor="start" fill="#000" >×</text>
<text x="449.9" y="717.4" font-size="22" text-anchor="start" fill="#000" >10</text>
<text x="472.9" y="711.8" font-size="15.8" text-anchor="start" fill="#000" >−</text>
<text x="487.8" y="711.8" font-size="15.8" text-anchor="start" fill="#000" >4</text>
<text x="496.4" y="717.4" font-size="22" text-anchor="start" fill="#000" >)</text>
<text x="527.0" y="383.9" font-size="14.5" text-anchor="start" fill="#222" >MS/Y SiC (literature)</text>
<text x="527.0" y="405.4" font-size="14.5" text-anchor="start" fill="#222" >MS/Y SiC (this study)</text>
<text x="654.5" y="600.8" font-size="20" text-anchor="start" fill="#000" >(c)</text>
</svg></body></html>
